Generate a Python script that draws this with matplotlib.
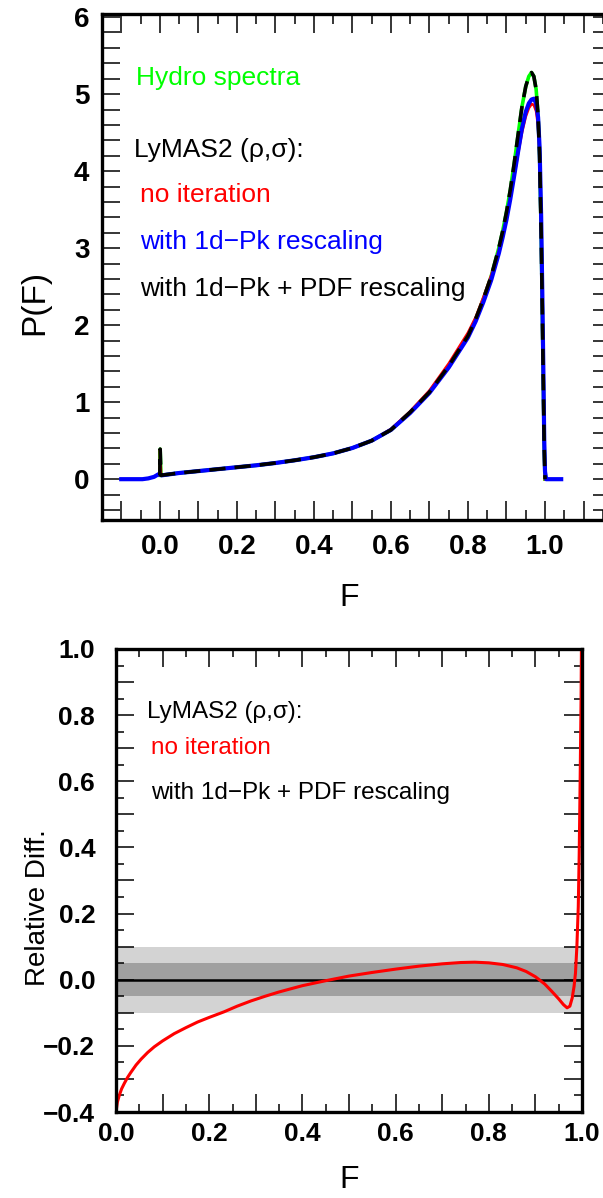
import matplotlib
matplotlib.use("Agg")
import matplotlib.pyplot as plt
from matplotlib.ticker import MultipleLocator, FuncFormatter

plt.rcParams['font.family'] = ['Liberation Sans', 'DejaVu Sans']

# ---- top panel: flux PDF P(F) ----
F_hydro = [0.0, 0.001, 0.003, 0.05, 0.1, 0.15, 0.2, 0.25, 0.3, 0.35, 0.4, 0.45, 0.5, 0.55,
           0.6, 0.65, 0.7, 0.75, 0.8, 0.82, 0.84, 0.86, 0.88, 0.89, 0.9, 0.91, 0.92, 0.93,
           0.94, 0.95, 0.958, 0.965, 0.971, 0.977, 0.982, 0.986, 0.99, 0.993, 0.996, 0.998, 1.0]
P_hydro = [0.05, 0.39, 0.05, 0.08, 0.105, 0.13, 0.155, 0.18, 0.21, 0.245, 0.285, 0.335, 0.405, 0.5,
           0.64, 0.87, 1.13, 1.47, 1.86, 2.08, 2.34, 2.63, 3.0, 3.22, 3.47, 3.76, 4.1, 4.47,
           4.83, 5.1, 5.23, 5.28, 5.23, 5.06, 4.72, 4.2, 3.2, 2.2, 1.1, 0.4, 0.0]

F_noiter = [0.0, 0.001, 0.003, 0.05, 0.1, 0.15, 0.2, 0.25, 0.3, 0.35, 0.4, 0.45, 0.5, 0.55,
            0.6, 0.65, 0.7, 0.75, 0.8, 0.82, 0.84, 0.86, 0.88, 0.89, 0.9, 0.91, 0.92, 0.93,
            0.94, 0.95, 0.958, 0.965, 0.971, 0.977, 0.982, 0.986, 0.99, 0.993, 0.996, 0.998, 1.0]
P_noiter = [0.05, 0.39, 0.05, 0.08, 0.105, 0.13, 0.155, 0.18, 0.21, 0.245, 0.285, 0.335, 0.405, 0.5,
            0.65, 0.88, 1.15, 1.5, 1.9, 2.1, 2.36, 2.64, 2.97, 3.17, 3.39, 3.65, 3.94, 4.23,
            4.5, 4.71, 4.82, 4.87, 4.86, 4.78, 4.6, 4.2, 3.3, 2.3, 1.2, 0.45, 0.0]

F_pk = [-0.1, -0.045, -0.03, -0.015, -0.003, 0.005, 0.05, 0.1, 0.15, 0.2, 0.25, 0.3, 0.35,
        0.4, 0.45, 0.5, 0.55, 0.6, 0.65, 0.7, 0.75, 0.8, 0.82, 0.84, 0.86, 0.88, 0.89, 0.9,
        0.91, 0.92, 0.93, 0.94, 0.95, 0.958, 0.965, 0.971, 0.977, 0.982, 0.986, 0.99, 0.993,
        0.996, 0.998, 1.0, 1.003, 1.042]
P_pk = [0.0, 0.0, 0.01, 0.03, 0.065, 0.05, 0.08, 0.105, 0.13, 0.155, 0.18, 0.21, 0.245,
        0.285, 0.335, 0.405, 0.5, 0.64, 0.86, 1.12, 1.45, 1.84, 2.05, 2.3, 2.58, 2.93, 3.14, 3.37,
        3.64, 3.94, 4.25, 4.55, 4.77, 4.88, 4.93, 4.94, 4.88, 4.7, 4.3, 3.4, 2.4,
        1.3, 0.5, 0.1, 0.0, 0.0]

F_pdf = [0.0, 0.001, 0.003, 0.05, 0.1, 0.15, 0.2, 0.25, 0.3, 0.35, 0.4, 0.45, 0.5, 0.55,
         0.6, 0.65, 0.7, 0.75, 0.8, 0.82, 0.84, 0.86, 0.88, 0.89, 0.9, 0.91, 0.92, 0.93,
         0.94, 0.95, 0.958, 0.965, 0.971, 0.977, 0.982, 0.986, 0.99, 0.993, 0.996, 0.998, 1.0]
P_pdf = [0.05, 0.39, 0.05, 0.08, 0.105, 0.13, 0.155, 0.18, 0.21, 0.245, 0.285, 0.335, 0.405, 0.5,
         0.64, 0.87, 1.13, 1.47, 1.86, 2.08, 2.34, 2.63, 3.0, 3.22, 3.47, 3.76, 4.1, 4.47,
         4.83, 5.1, 5.23, 5.28, 5.23, 5.06, 4.72, 4.2, 3.2, 2.2, 1.1, 0.4, 0.0]

# ---- bottom panel: relative difference ----
F_rel = [0.0, 0.003, 0.007, 0.012, 0.018, 0.025, 0.032, 0.043, 0.054, 0.068, 0.082, 0.1,
         0.125, 0.15, 0.175, 0.2, 0.232, 0.26, 0.29, 0.32, 0.35, 0.4, 0.45, 0.5, 0.55, 0.6,
         0.65, 0.7, 0.74, 0.77, 0.8, 0.83, 0.86, 0.88, 0.9, 0.92, 0.935, 0.95, 0.96, 0.968,
         0.974, 0.979, 0.983, 0.986, 0.989, 0.992, 0.994, 0.996, 0.998, 0.999]
rel_noiter = [-0.40, -0.37, -0.35, -0.33, -0.313, -0.295, -0.28, -0.258, -0.24, -0.22, -0.203,
              -0.185, -0.163, -0.145, -0.128, -0.114, -0.097, -0.08, -0.064, -0.05, -0.037,
              -0.018, -0.003, 0.011, 0.022, 0.032, 0.041, 0.048, 0.052, 0.053, 0.051, 0.046,
              0.036, 0.025, 0.009, -0.013, -0.035, -0.058, -0.075, -0.085, -0.08, -0.055,
              -0.02, 0.02, 0.1, 0.22, 0.38, 0.6, 0.85, 1.05]
F_rel_pdf = [0.0, 1.0]
rel_pdf = [0.0, 0.0]

W, H = 603, 1198
fig = plt.figure(figsize=(W / 100, H / 100), dpi=100)


def px_axes(left, right, top, bottom):
    return fig.add_axes([left / W, 1 - bottom / H, (right - left) / W, (bottom - top) / H])


def every_other(v, pos):
    return f"{v:.1f}".replace('-', '\u2212') if round(v * 10) % 2 == 0 else ""


def style(ax, size):
    for s in ax.spines.values():
        s.set_linewidth(2.4)
    ax.tick_params(which='both', direction='in', top=True, right=True, width=1.1,
                   labelsize=size)
    for lab in ax.get_xticklabels() + ax.get_yticklabels():
        lab.set_fontweight('bold')


# top panel
ax1 = px_axes(102, 610.5, 14, 520)
ax1.plot(F_hydro, P_hydro, color='#00ff00', lw=2.6)
ax1.plot(F_noiter, P_noiter, color='red', lw=2.0)
ax1.plot(F_pk, P_pk, color='blue', lw=3.0)
ax1.plot(F_pdf, P_pdf, color='black', lw=2.6, dashes=(4.5, 2.5))
ax1.set_xlim(-0.15, 1.17)
ax1.set_ylim(-0.53, 6.04)
ax1.xaxis.set_major_locator(MultipleLocator(0.1))
ax1.xaxis.set_minor_locator(MultipleLocator(0.05))
ax1.xaxis.set_major_formatter(FuncFormatter(every_other))
ax1.yaxis.set_major_locator(MultipleLocator(1))
ax1.yaxis.set_minor_locator(MultipleLocator(0.2))
style(ax1, 20)
ax1.tick_params(axis='x', which='major', length=14, pad=10)
ax1.tick_params(axis='x', which='minor', length=7)
ax1.tick_params(axis='y', which='both', length=13, pad=9)

# bottom panel
ax2 = px_axes(116, 582, 649, 1112)
ax2.axhspan(-0.1, 0.1, color='#d3d3d3', lw=0)
ax2.axhspan(-0.05, 0.05, color='#a0a0a0', lw=0)
ax2.plot(F_rel_pdf, rel_pdf, color='black', lw=1.8)
ax2.plot(F_rel, rel_noiter, color='red', lw=2.2)
ax2.set_xlim(0, 1.0)
ax2.set_ylim(-0.4, 1.0)
ax2.xaxis.set_major_locator(MultipleLocator(0.1))
ax2.xaxis.set_minor_locator(MultipleLocator(0.05))
ax2.xaxis.set_major_formatter(FuncFormatter(every_other))
ax2.yaxis.set_major_locator(MultipleLocator(0.1))
ax2.yaxis.set_minor_locator(MultipleLocator(0.05))
ax2.yaxis.set_major_formatter(FuncFormatter(every_other))
style(ax2, 19)
ax2.tick_params(which='major', length=13)
ax2.tick_params(which='minor', length=6)
ax2.tick_params(axis='x', pad=7)
ax2.tick_params(axis='y', pad=15)

# axis labels
fig.text(349 / W, 1 - 598 / H, "F", fontsize=23, ha='center', va='center')
fig.text(35 / W, 1 - 302 / H, "P(F)", fontsize=24, ha='center', va='center', rotation=90)
fig.text(349 / W, 1 - 1180 / H, "F", fontsize=23, ha='center', va='center')
fig.text(38 / W, 1 - 908 / H, "Relative Diff.", fontsize=20, ha='center', va='center',
         rotation=90)

# in-plot annotations
top_notes = [("Hydro spectra", '#00ff00', 136, 78),
             ("LyMAS2 (ρ,σ):", 'black', 134, 150),
             ("no iteration", 'red', 140, 195),
             ("with 1d\u2212Pk rescaling", 'blue', 140, 242),
             ("with 1d\u2212Pk + PDF rescaling", 'black', 140, 289)]
for txt, col, x, y in top_notes:
    fig.text(x / W, 1 - y / H, txt, color=col, fontsize=19, ha='left', va='center')

bottom_notes = [("LyMAS2 (ρ,σ):", 'black', 147, 712),
                ("no iteration", 'red', 151, 748),
                ("with 1d\u2212Pk + PDF rescaling", 'black', 151, 793)]
for txt, col, x, y in bottom_notes:
    fig.text(x / W, 1 - y / H, txt, color=col, fontsize=17.5, ha='left', va='center')

fig.savefig("out.png", dpi=100)
